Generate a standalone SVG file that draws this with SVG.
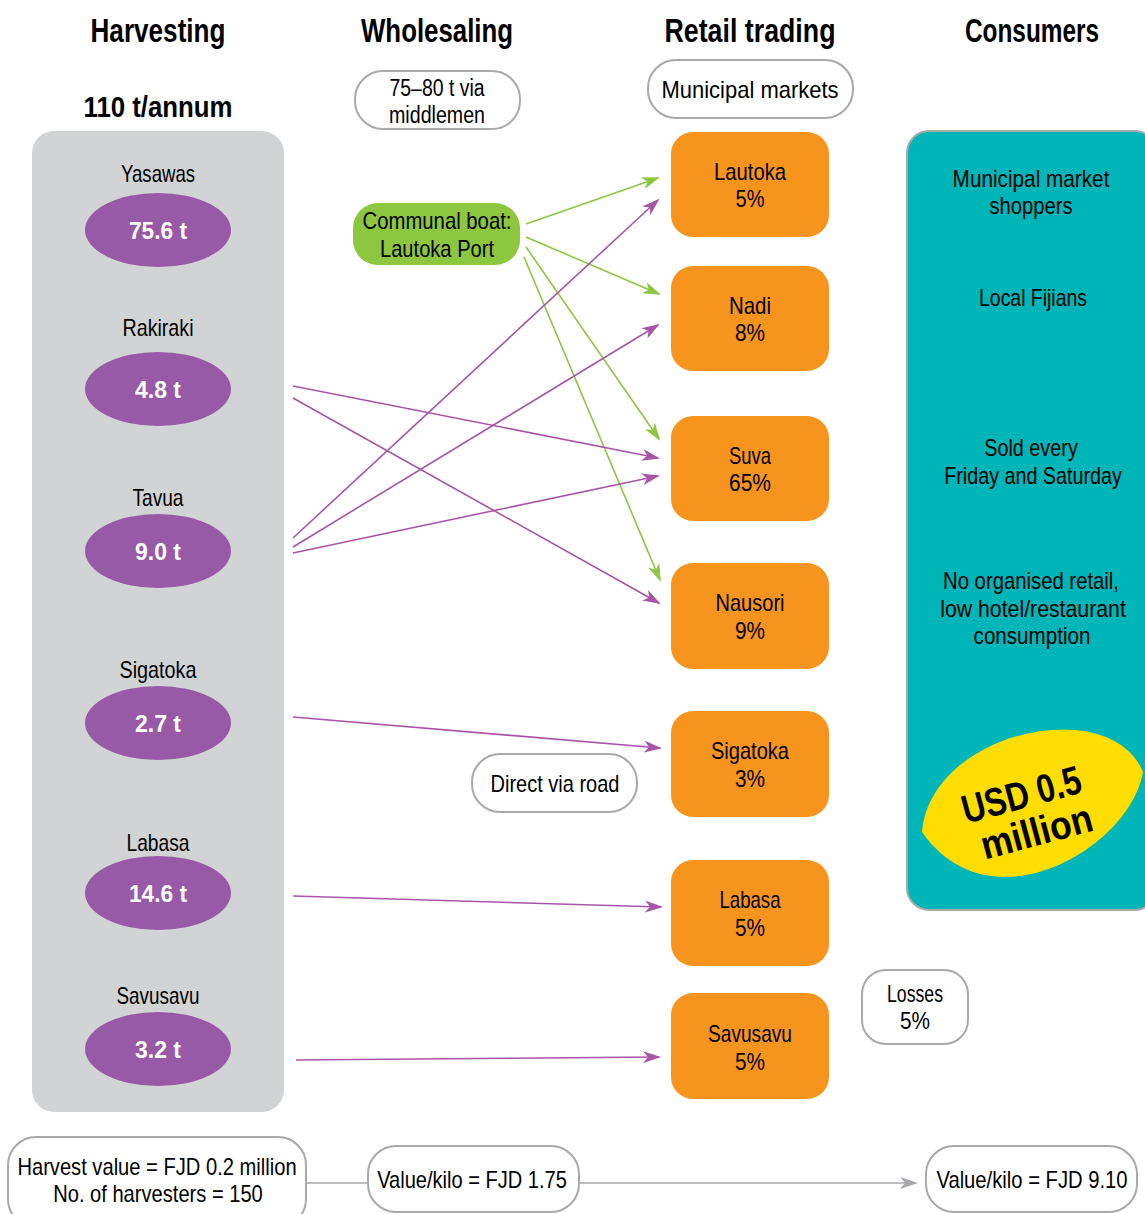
<svg xmlns="http://www.w3.org/2000/svg" width="1145" height="1214" viewBox="0 0 1145 1214">
<style>
text{font-family:"Liberation Sans","DejaVu Sans",sans-serif;text-anchor:middle;fill:#000}
.h{font-size:33px;font-weight:bold}
.t{font-size:24px}
.s{font-size:23px}
.v{font-size:24px;font-weight:bold;fill:#fff}
.u{font-size:40px;font-weight:bold}
.ell{fill:#985aa7}
.ob{fill:#f7941d}
.wb{fill:#fff;stroke:#a7a9ac;stroke-width:2}
.pl{stroke:#a855a8;stroke-width:1.6;fill:none;marker-end:url(#ap)}
.gl{stroke:#8dc63f;stroke-width:1.6;fill:none;marker-end:url(#ag)}
.gr{stroke:#a7a9ac;stroke-width:1.6;fill:none}
</style>
<defs>
<marker id="ap" markerUnits="userSpaceOnUse" markerWidth="18" markerHeight="12" refX="16" refY="6" orient="auto"><path d="M0,0 L18,6 L0,12 L5,6 z" fill="#a855a8"/></marker>
<marker id="ag" markerUnits="userSpaceOnUse" markerWidth="18" markerHeight="12" refX="16" refY="6" orient="auto"><path d="M0,0 L18,6 L0,12 L5,6 z" fill="#8dc63f"/></marker>
<marker id="ay" markerUnits="userSpaceOnUse" markerWidth="18" markerHeight="12" refX="16" refY="6" orient="auto"><path d="M0,0 L18,6 L0,12 L5,6 z" fill="#a7a9ac"/></marker>
</defs>

<g id="headers">
<text class="h" x="158" y="42" textLength="135" lengthAdjust="spacingAndGlyphs">Harvesting</text>
<text class="h" x="437" y="42" textLength="152" lengthAdjust="spacingAndGlyphs">Wholesaling</text>
<text class="h" x="750" y="42" textLength="171" lengthAdjust="spacingAndGlyphs">Retail trading</text>
<text class="h" x="1032" y="42" textLength="134" lengthAdjust="spacingAndGlyphs">Consumers</text>
<text class="h" x="158" y="117" style="font-size:30px" textLength="149" lengthAdjust="spacingAndGlyphs">110 t/annum</text>
</g>

<g id="harvest-panel"><rect x="32" y="131" width="252" height="981" rx="22" fill="#d1d3d4"/></g>

<g id="yasawas"><text class="t" x="158" y="182" textLength="74" lengthAdjust="spacingAndGlyphs">Yasawas</text><ellipse class="ell" cx="158" cy="230" rx="73" ry="37"/><text class="v" x="158" y="239" textLength="58" lengthAdjust="spacingAndGlyphs">75.6 t</text></g>
<g id="rakiraki"><text class="t" x="158" y="336" textLength="71" lengthAdjust="spacingAndGlyphs">Rakiraki</text><ellipse class="ell" cx="158" cy="389" rx="73" ry="37"/><text class="v" x="158" y="398" textLength="46" lengthAdjust="spacingAndGlyphs">4.8 t</text></g>
<g id="tavua"><text class="t" x="158" y="506" textLength="51" lengthAdjust="spacingAndGlyphs">Tavua</text><ellipse class="ell" cx="158" cy="551" rx="73" ry="37"/><text class="v" x="158" y="560" textLength="46" lengthAdjust="spacingAndGlyphs">9.0 t</text></g>
<g id="sigatoka-h"><text class="t" x="158" y="678" textLength="77" lengthAdjust="spacingAndGlyphs">Sigatoka</text><ellipse class="ell" cx="158" cy="723" rx="73" ry="37"/><text class="v" x="158" y="732" textLength="46" lengthAdjust="spacingAndGlyphs">2.7 t</text></g>
<g id="labasa-h"><text class="t" x="158" y="851" textLength="63" lengthAdjust="spacingAndGlyphs">Labasa</text><ellipse class="ell" cx="158" cy="893" rx="73" ry="37"/><text class="v" x="158" y="902" textLength="58" lengthAdjust="spacingAndGlyphs">14.6 t</text></g>
<g id="savusavu-h"><text class="t" x="158" y="1004" textLength="83" lengthAdjust="spacingAndGlyphs">Savusavu</text><ellipse class="ell" cx="158" cy="1049" rx="73" ry="37"/><text class="v" x="158" y="1058" textLength="46" lengthAdjust="spacingAndGlyphs">3.2 t</text></g>

<g id="middlemen"><rect class="wb" x="355" y="71" width="165" height="58" rx="28"/><text class="s" x="437" y="96" textLength="95" lengthAdjust="spacingAndGlyphs">75–80 t via</text><text class="s" x="437" y="123" textLength="96" lengthAdjust="spacingAndGlyphs">middlemen</text></g>
<g id="communal-boat"><rect x="353" y="203" width="167" height="62" rx="25" fill="#8dc63f"/><text class="t" x="437" y="229" textLength="149" lengthAdjust="spacingAndGlyphs">Communal boat:</text><text class="t" x="437" y="257" textLength="114" lengthAdjust="spacingAndGlyphs">Lautoka Port</text></g>
<g id="municipal-markets"><rect class="wb" x="648" y="60" width="205" height="58" rx="28"/><text class="t" x="750" y="98" textLength="177" lengthAdjust="spacingAndGlyphs">Municipal markets</text></g>
<g id="direct-road"><rect class="wb" x="472" y="754" width="165" height="58" rx="28"/><text class="t" x="555" y="792" textLength="129" lengthAdjust="spacingAndGlyphs">Direct via road</text></g>

<g id="lautoka"><rect class="ob" x="671" y="132" width="158" height="105" rx="22"/><text class="t" x="750" y="180" textLength="72" lengthAdjust="spacingAndGlyphs">Lautoka</text><text class="t" x="750" y="207" textLength="29" lengthAdjust="spacingAndGlyphs">5%</text></g>
<g id="nadi"><rect class="ob" x="671" y="266" width="158" height="105" rx="22"/><text class="t" x="750" y="314" textLength="42" lengthAdjust="spacingAndGlyphs">Nadi</text><text class="t" x="750" y="341" textLength="30" lengthAdjust="spacingAndGlyphs">8%</text></g>
<g id="suva"><rect class="ob" x="671" y="416" width="158" height="105" rx="22"/><text class="t" x="750" y="464" textLength="42" lengthAdjust="spacingAndGlyphs">Suva</text><text class="t" x="750" y="491" textLength="42" lengthAdjust="spacingAndGlyphs">65%</text></g>
<g id="nausori"><rect class="ob" x="671" y="563" width="158" height="106" rx="22"/><text class="t" x="750" y="611" textLength="69" lengthAdjust="spacingAndGlyphs">Nausori</text><text class="t" x="750" y="639" textLength="30" lengthAdjust="spacingAndGlyphs">9%</text></g>
<g id="sigatoka-r"><rect class="ob" x="671" y="711" width="158" height="106" rx="22"/><text class="t" x="750" y="759" textLength="78" lengthAdjust="spacingAndGlyphs">Sigatoka</text><text class="t" x="750" y="787" textLength="30" lengthAdjust="spacingAndGlyphs">3%</text></g>
<g id="labasa-r"><rect class="ob" x="671" y="860" width="158" height="106" rx="22"/><text class="t" x="750" y="908" textLength="61" lengthAdjust="spacingAndGlyphs">Labasa</text><text class="t" x="750" y="936" textLength="30" lengthAdjust="spacingAndGlyphs">5%</text></g>
<g id="savusavu-r"><rect class="ob" x="671" y="993" width="158" height="106" rx="22"/><text class="t" x="750" y="1042" textLength="84" lengthAdjust="spacingAndGlyphs">Savusavu</text><text class="t" x="750" y="1070" textLength="30" lengthAdjust="spacingAndGlyphs">5%</text></g>

<g id="consumers">
<rect x="907" y="131" width="250" height="779" rx="22" fill="#00b5b8" stroke="#a7a9ac" stroke-width="2"/>
<text class="t" transform="translate(1031 187) scale(0.8 1)" textLength="196" lengthAdjust="spacingAndGlyphs">Municipal market</text>
<text class="t" transform="translate(1031 214) scale(0.8 1)" textLength="104" lengthAdjust="spacingAndGlyphs">shoppers</text>
<text class="t" transform="translate(1033 306) scale(0.8 1)" textLength="135" lengthAdjust="spacingAndGlyphs">Local Fijians</text>
<text class="t" transform="translate(1031 456) scale(0.8 1)" textLength="117" lengthAdjust="spacingAndGlyphs">Sold every</text>
<text class="t" transform="translate(1033 484) scale(0.8 1)" textLength="222" lengthAdjust="spacingAndGlyphs">Friday and Saturday</text>
<text class="t" transform="translate(1031 589) scale(0.8 1)" textLength="220" lengthAdjust="spacingAndGlyphs">No organised retail,</text>
<text class="t" transform="translate(1033 617) scale(0.8 1)" textLength="232" lengthAdjust="spacingAndGlyphs">low hotel/restaurant</text>
<text class="t" transform="translate(1032 644) scale(0.8 1)" textLength="146" lengthAdjust="spacingAndGlyphs">consumption</text>
</g>
<g id="usd-badge">
<path d="M922,832 C930,732 1110,692 1143,772 C1130,848 990,930 922,832 Z" fill="#ffdd00"/>
<text class="u" transform="translate(1025,808) rotate(-15)" textLength="122" lengthAdjust="spacingAndGlyphs">USD 0.5</text>
<text class="u" transform="translate(1040,845) rotate(-15)" textLength="114" lengthAdjust="spacingAndGlyphs">million</text>
</g>

<g id="losses"><rect class="wb" x="862" y="970" width="106" height="74" rx="24"/><text class="s" x="915" y="1002" textLength="56" lengthAdjust="spacingAndGlyphs">Losses</text><text class="s" x="915" y="1029" textLength="30" lengthAdjust="spacingAndGlyphs">5%</text></g>

<g id="harvest-value"><rect class="wb" x="8" y="1137" width="298" height="90" rx="28"/>
<text class="t" transform="translate(157 1175) scale(0.8 1)" textLength="349" lengthAdjust="spacingAndGlyphs">Harvest value = FJD 0.2 million</text>
<text class="t" transform="translate(158 1202) scale(0.8 1)" textLength="262" lengthAdjust="spacingAndGlyphs">No. of harvesters = 150</text></g>
<g id="value-wholesale"><rect class="wb" x="368" y="1146" width="211" height="66" rx="28"/><text class="t" transform="translate(472 1188) scale(0.8 1)" textLength="237" lengthAdjust="spacingAndGlyphs">Value/kilo = FJD 1.75</text></g>
<g id="value-retail"><rect class="wb" x="926" y="1146" width="211" height="66" rx="28"/><text class="t" transform="translate(1032 1188) scale(0.8 1)" textLength="239" lengthAdjust="spacingAndGlyphs">Value/kilo = FJD 9.10</text></g>

<g id="connectors">
<line class="gl" x1="526" y1="224" x2="658" y2="178"/>
<line class="gl" x1="526" y1="237" x2="659" y2="294"/>
<line class="gl" x1="526" y1="247" x2="659" y2="439"/>
<line class="gl" x1="524" y1="257" x2="660" y2="580"/>
<line class="pl" x1="293" y1="386" x2="658" y2="458"/>
<line class="pl" x1="293" y1="398" x2="659" y2="603"/>
<line class="pl" x1="293" y1="538" x2="658" y2="200"/>
<line class="pl" x1="293" y1="547" x2="658" y2="325"/>
<line class="pl" x1="293" y1="553" x2="658" y2="476"/>
<line class="pl" x1="293" y1="717" x2="660" y2="748"/>
<line class="pl" x1="293" y1="896" x2="661" y2="907"/>
<line class="pl" x1="296" y1="1060" x2="659" y2="1057"/>
<line class="gr" x1="306" y1="1183" x2="368" y2="1183"/>
<line class="gr" x1="579" y1="1183" x2="916" y2="1183" marker-end="url(#ay)"/>
</g>
</svg>
